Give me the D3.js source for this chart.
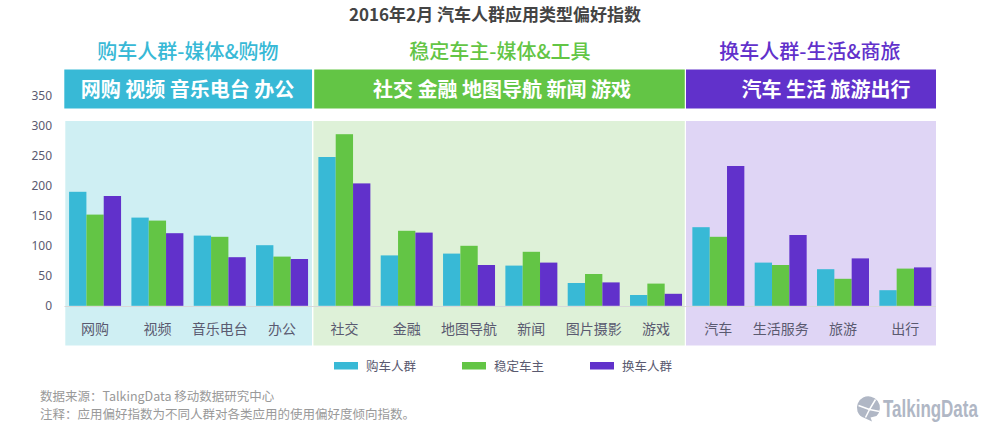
<!DOCTYPE html>
<html lang="zh">
<head>
<meta charset="utf-8">
<script src="https://cdn.jsdelivr.net/npm/d3@7/dist/d3.min.js"></script>
<style>
html,body{margin:0;padding:0;background:#fff;overflow:hidden}
svg{display:block}
text{font-family:"Noto Sans CJK SC","Noto Sans",sans-serif}
</style>
</head>
<body>
<svg id="chart" width="1000" height="436"></svg>
<script>
const categories = ["网购","视频","音乐电台","办公","社交","金融","地图导航","新闻","图片摄影","游戏","汽车","生活服务","旅游","出行"];
const seriesNames = ["购车人群","稳定车主","换车人群"];
const buyers  = [190,147,117,101,248,84,87,67,38,18,131,72,61,26];
const owners  = [152,142,115,82,286,125,100,90,53,37,115,68,45,62];
const changers= [183,121,81,78,204,122,68,72,39,20,233,118,79,64];
const yTicks = [0,50,100,150,200,250,300,350];
const groupTitles = ["购车人群-媒体&购物","稳定车主-媒体&工具","换车人群-生活&商旅"];
const groupApps = ["网购 视频 音乐电台 办公","社交 金融 地图导航 新闻 游戏","汽车 生活 旅游出行"];
const groupSizes = [4,6,4];
const colors = ["#38b9d6","#63c545","#6131cb"];
const panelColors = ["#cfeff3","#def1d8","#dfd5f5"];
const titleText = "2016年2月 汽车人群应用类型偏好指数";
const notes = ["数据来源：TalkingData 移动数据研究中心","注释：应用偏好指数为不同人群对各类应用的使用偏好度倾向指数。"];
const brand = "TalkingData";

const series = [buyers, owners, changers];
const svg = d3.select("#chart");

const x = d3.scaleBand().domain(categories).range([63.9, 936.5]).paddingInner(0.166).paddingOuter(0.083);
const x1 = d3.scaleBand().domain(d3.range(series.length)).range([0, x.bandwidth()]);
const y = d3.scaleLinear().domain([0,350]).range([305.8, 95.8]);

svg.append("text").attr("x",495).attr("y",20.5).attr("text-anchor","middle")
  .attr("font-size",17).attr("font-weight",700).attr("fill","#444").text(titleText);

// groups: subtitle, header band, panel
let start = 0;
const titleCx = [188,500,810], appsCx = [187.5,502,826];
groupSizes.forEach((n,i)=>{
  const x0 = x.range()[0] + start*x.step() + [1.4,0.2,-1.2][i];
  const x1p = x.range()[0] + (start+n)*x.step() - [1.2,2.4,0.5][i];
  svg.append("rect").attr("x",x0).attr("y",121).attr("width",x1p-x0).attr("height",224.5).attr("fill",panelColors[i]);
  svg.append("rect").attr("x",x0-(i===0?1:0)+(i===1?0.8:0)).attr("y",69.5).attr("width",x1p-x0+(i===0?1:0)-(i===1?0.8:0)).attr("height",39).attr("fill",colors[i]);
  svg.append("text").attr("x",titleCx[i]).attr("y",58.5).attr("text-anchor","middle")
    .attr("font-size",20).attr("font-weight",500).attr("fill",colors[i]).text(groupTitles[i]);
  svg.append("text").attr("x",appsCx[i]).attr("y",97).attr("text-anchor","middle")
    .attr("font-size",20).attr("font-weight",700).attr("fill","#fff").text(groupApps[i]);
  start += n;
});

// y axis
const yAxis = svg.append("g").attr("transform","translate(52,0)")
  .call(d3.axisLeft(y).tickValues(yTicks).tickSize(0).tickPadding(0));
yAxis.select(".domain").remove();
yAxis.selectAll("text").attr("font-size",12).attr("fill","#5a5a70").style("font-family",'"Noto Sans","DejaVu Sans",sans-serif');

// x axis
const xAxis = svg.append("g").attr("transform",`translate(0,${y(0)})`)
  .call(d3.axisBottom(x).tickSize(0).tickPadding(18));
xAxis.select(".domain").attr("stroke","#d8d8d8").attr("stroke-width",1.2).attr("d","M64.5,0.7H936");
xAxis.selectAll("text").attr("font-size",14).attr("fill","#5a5a70");

// bars
svg.append("g").selectAll("g").data(series).join("g")
  .attr("fill",(d,i)=>colors[i])
  .selectAll("rect").data((d,i)=>d.map((v,j)=>({v,cat:categories[j],s:i}))).join("rect")
  .attr("x",d=>x(d.cat)+x1(d.s))
  .attr("width",x1.bandwidth())
  .attr("y",d=>y(d.v))
  .attr("height",d=>y(0)-y(d.v));

// legend
const legendX = d3.scalePoint().domain(seriesNames).range([334,590]);
const legend = svg.append("g").selectAll("g").data(seriesNames).join("g")
  .attr("transform",d=>`translate(${legendX(d)},362)`);
legend.append("rect").attr("width",24).attr("height",7.5).attr("fill",(d,i)=>colors[i]);
legend.append("text").attr("x",32).attr("y",8.5).attr("font-size",12.5).attr("fill","#5a5a70").text(d=>d);

// notes
svg.append("g").selectAll("text").data(notes).join("text")
  .attr("x",40).attr("y",(d,i)=>401+i*18.3).attr("font-size",12.5).attr("fill","#999").text(d=>d);

// brand
const logo = svg.append("g").attr("transform","translate(868.5,408.5)");
logo.append("path").attr("d","M-11,3 A11.5,11.5 0 1 1 8,7.5 L2,9 L3.5,13 L-4,9.5 Q-9,8 -11,3Z").attr("fill","#b0b7c5");
logo.append("path").attr("d","M-10,-3L1,1L7,-9M1,1L-3,9M1,1L11,3").attr("fill","none").attr("stroke","#fff").attr("stroke-width",1.5);
const brandText = svg.append("text").attr("font-size",24).attr("font-weight",700)
  .attr("fill","#b0b7c5")
  .style("font-family",'"Liberation Sans Narrow","Liberation Sans",sans-serif').text(brand);
const natural = brandText.node().getComputedTextLength();
brandText.attr("transform",`translate(883,417) scale(${95/natural},1)`);
</script>
</body>
</html>
